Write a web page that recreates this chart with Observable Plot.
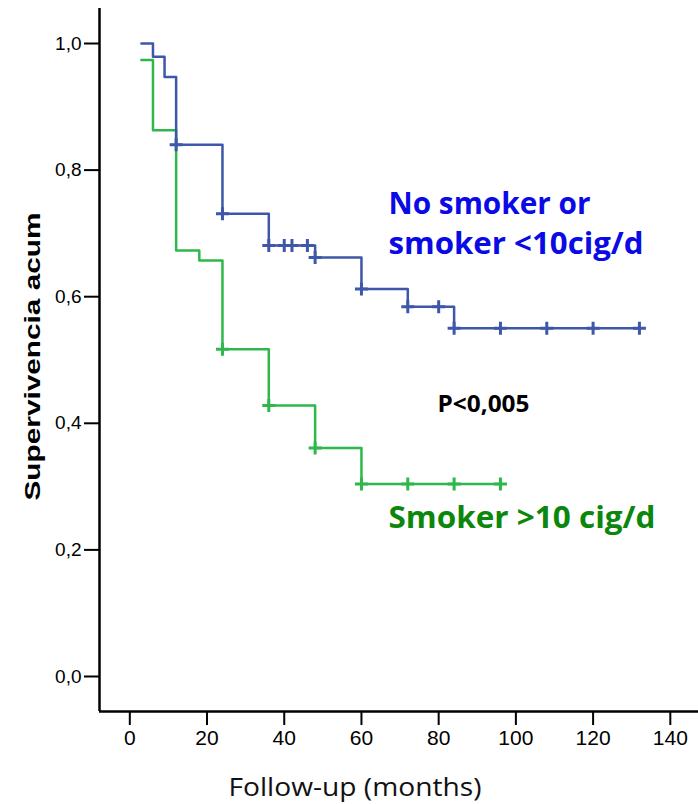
<!DOCTYPE html>
<html>
<head>
<meta charset="utf-8">
<script src="https://cdn.jsdelivr.net/npm/d3@7"></script>
<script src="https://cdn.jsdelivr.net/npm/@observablehq/plot@0.6"></script>
<style>
  html, body { margin: 0; padding: 0; background: #fff; }
  #chart svg { display: block; }
  g[aria-label="y-axis tick label"] text { font-family: "Liberation Sans", Arial, sans-serif; font-size: 19px; }
  g[aria-label="x-axis tick label"] text { font-family: "Liberation Sans Narrow", "Arial Narrow", "Liberation Sans", sans-serif; font-size: 21px; }
</style>
</head>
<body>
<div id="chart"></div>
<script>
// ---- Data ----
const blueName = "No smoker or smoker <10cig/d";
const blueTimes = [3, 6, 9, 12, 24, 36, 48, 60, 72, 84, 132];
const blueSurv  = [1.0, 0.979, 0.947, 0.840, 0.731, 0.681, 0.662, 0.612, 0.584, 0.550, 0.550];
const blueCensored = [12, 24, 36, 40, 42, 46, 48, 60, 72, 80, 84, 96, 108, 120, 132];

const greenName = "Smoker >10 cig/d";
const greenTimes = [3, 6, 12, 18, 24, 36, 48, 60, 96];
const greenSurv  = [0.974, 0.863, 0.673, 0.657, 0.517, 0.428, 0.361, 0.304, 0.304];
const greenCensored = [24, 36, 48, 60, 72, 84, 96];

const xTicks = [0, 20, 40, 60, 80, 100, 120, 140];
const yTicks = [0, 0.2, 0.4, 0.6, 0.8, 1.0];

const yLabel = "Supervivencia acum";
const xLabel = "Follow-up (months)";
const blueLabelLines = ["No smoker or", "smoker <10cig/d"];
const greenLabel = "Smoker >10 cig/d";
const pLabel = "P<0,005";

// ---- Build tables ----
const stepTable = (times, surv) => times.map((t, i) => ({t, s: surv[i]}));
const survAt = (times, surv, t) => {
  let v = surv[0];
  for (let i = 0; i < times.length; i++) if (times[i] <= t) v = surv[i];
  return v;
};
const censorTable = (cens, times, surv) => cens.map(t => ({t, s: survAt(times, surv, t)}));

const blueSteps = stepTable(blueTimes, blueSurv);
const greenSteps = stepTable(greenTimes, greenSurv);
const blueCens = censorTable(blueCensored, blueTimes, blueSurv);
const greenCens = censorTable(greenCensored, greenTimes, greenSurv);

// ---- Styles ----
const blue = "#3F57A8";
const green = "#2EB84B";
const W = 698, H = 804;
const mL = 99, mT = 8, mB = 93, mR = 0;
const xDomain = [-7.85, 147.3];
const yDomain = [-0.0553, 1.0553];

const plusSymbol = {
  draw(context, size) {
    const h = Math.sqrt(size / Math.PI);
    context.moveTo(-h, 0); context.lineTo(h, 0);
    context.moveTo(0, -h); context.lineTo(0, h);
  }
};

const annot = (txt, left, baseline, size, color, weight, family) =>
  Plot.text([txt], {
    frameAnchor: "top-left",
    dx: left - mL,
    dy: baseline - mT - 0.32 * size,
    textAnchor: "start",
    lineAnchor: "middle",
    fontSize: size,
    fontWeight: weight,
    fontFamily: family,
    fill: color
  });

const chart = Plot.plot({
  width: W,
  height: H,
  marginLeft: mL,
  marginRight: mR,
  marginTop: mT,
  marginBottom: mB,
  style: {fontFamily: "'Liberation Sans', Arial, sans-serif", background: "#fff", color: "#000"},
  x: {domain: xDomain},
  y: {domain: yDomain},
  marks: [
    Plot.axisY({ticks: yTicks, tickSize: 15, tickPadding: 3, strokeWidth: 2,
      tickFormat: d => d.toFixed(1).replace(".", ","), label: null}),
    Plot.axisX({ticks: xTicks, tickSize: 14, tickPadding: 5, strokeWidth: 2, label: null}),
    Plot.ruleX([xDomain[0]], {stroke: "#000", strokeWidth: 2.5}),
    Plot.ruleY([yDomain[0]], {stroke: "#000", strokeWidth: 2.5}),
    Plot.line(greenSteps, {x: "t", y: "s", curve: "step-after", stroke: green, strokeWidth: 2.5}),
    Plot.dot(greenCens, {x: "t", y: "s", symbol: plusSymbol, r: 6.5, fill: "none", stroke: green, strokeWidth: 3}),
    Plot.line(blueSteps, {x: "t", y: "s", curve: "step-after", stroke: blue, strokeWidth: 2.5}),
    Plot.dot(blueCens, {x: "t", y: "s", symbol: plusSymbol, r: 6.5, fill: "none", stroke: blue, strokeWidth: 3}),
    Plot.text([yLabel], {frameAnchor: "left", dx: -67, dy: -3.5, rotate: -90, textAnchor: "middle", lineAnchor: "middle",
      fontSize: 22, fontWeight: "bold", fontFamily: "'Liberation Sans', Arial, sans-serif", fill: "#000"}),
    annot(blueLabelLines[0], 388, 213, 30, "#0A0AE6", "bold", "'Open Sans', sans-serif"),
    annot(blueLabelLines[1], 388, 253, 30, "#0A0AE6", "bold", "'Open Sans', sans-serif"),
    annot(greenLabel, 388, 527, 30, "#0B870B", "bold", "'Open Sans', sans-serif"),
    annot(pLabel, 437, 411, 24, "#000", "bold", "'Open Sans', sans-serif"),
    annot(xLabel, 228, 795, 26, "#111", "normal", "'Open Sans', sans-serif")
  ]
});

const widths = {
  "Supervivencia acum": 288,
  "No smoker or": 202,
  "smoker <10cig/d": 255,
  "Smoker >10 cig/d": 267,
  "P<0,005": 92,
  "Follow-up (months)": 253
};
d3.select(chart).selectAll("text").each(function() {
  const w = widths[this.textContent];
  if (w) {
    this.setAttribute("textLength", w);
    this.setAttribute("lengthAdjust", "spacingAndGlyphs");
  }
});

document.getElementById("chart").appendChild(chart);
</script>
</body>
</html>
